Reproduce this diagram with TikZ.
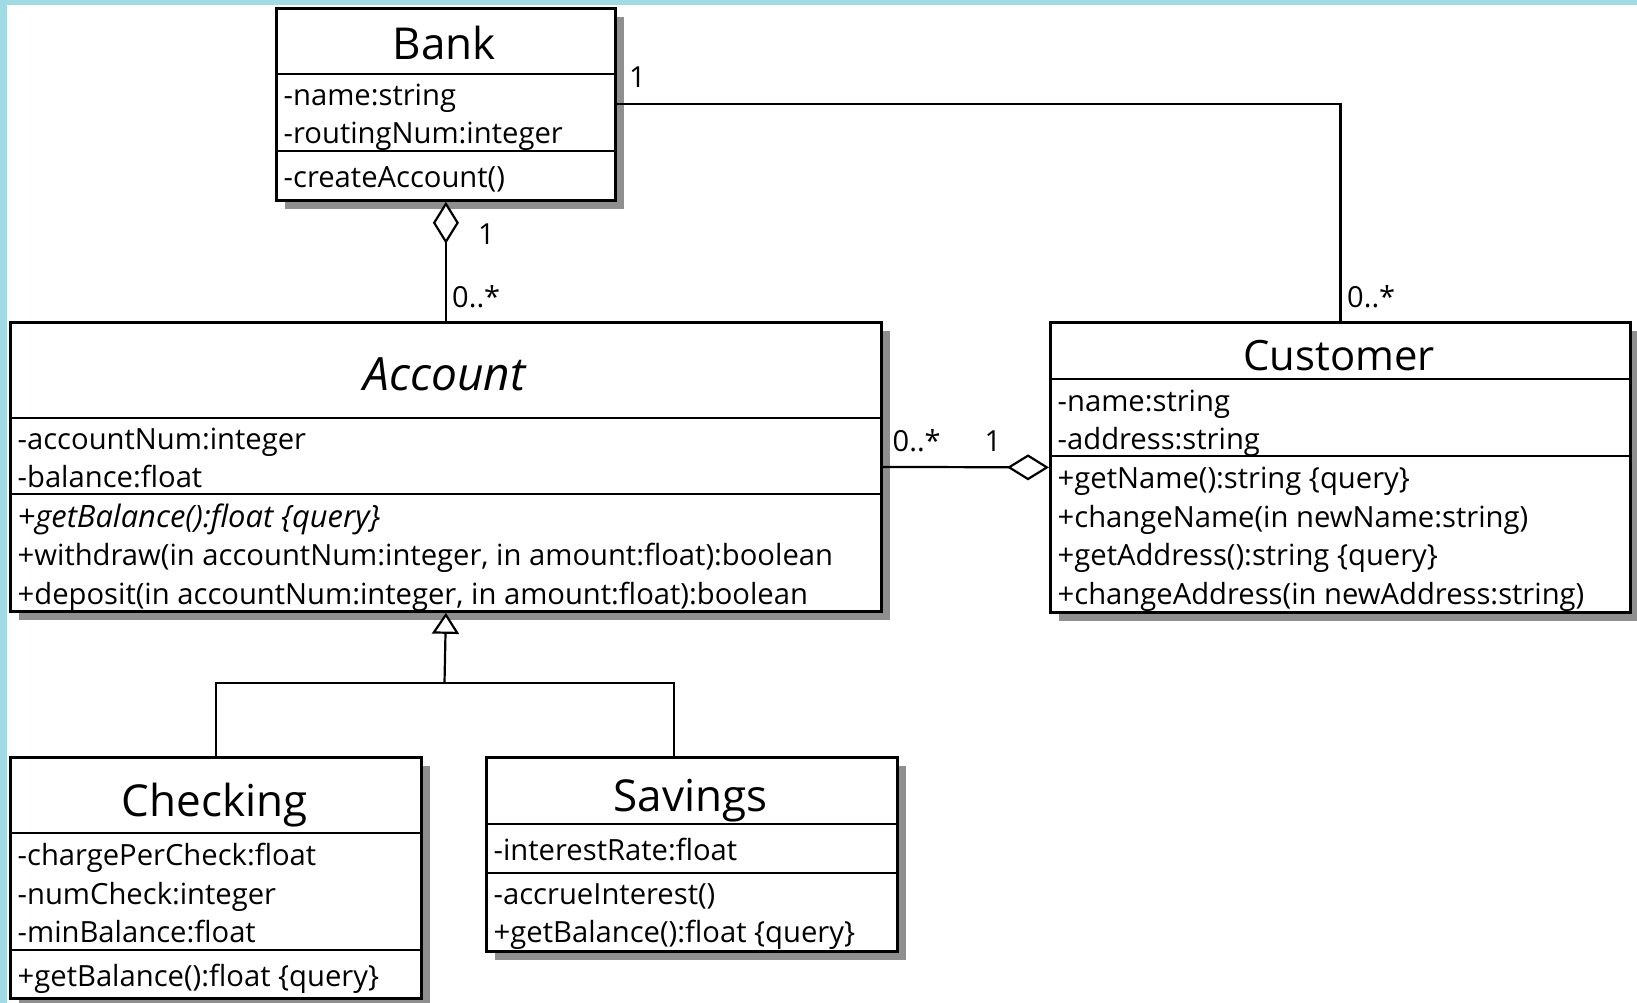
\documentclass[tikz,border=0pt]{standalone}
\usepackage{fontspec}
\setmainfont{Open Sans}
\usetikzlibrary{arrows.meta,shadows}
\definecolor{frameblue}{RGB}{160,219,229}
\definecolor{shadowgray}{RGB}{143,143,143}
\tikzset{
  umlbox/.style={draw=black, line width=2.8pt, fill=white, rectangle, inner sep=0pt,
    anchor=north west,
    drop shadow={shadow xshift=9pt, shadow yshift=-9pt, fill=shadowgray, opacity=1}},
  divider/.style={line width=2.6pt},
  member/.style={inner sep=0pt, anchor=base west, font=\fontsize{29.2}{34}\selectfont},
  classname/.style={inner sep=0pt, anchor=base, font=\fontsize{44}{50}\selectfont},
  mult/.style={inner sep=0pt, anchor=base west, font=\fontsize{29}{34}\selectfont},
  conn/.style={line width=2.2pt},
  aggr/.style={conn, {Diamond[fill=white,length=42pt,width=26pt]}-},
  gen/.style={conn, -{Triangle[fill=white,length=21pt,width=27pt]}},
}
\begin{document}
\begin{tikzpicture}[x=1pt,y=-1pt]
% page frame
\useasboundingbox (0,0) rectangle (1637,1003);
\fill[white] (0,0) rectangle (1637,1003);
\fill[frameblue] (0,0) rectangle (1637,5);
\fill[frameblue] (0,0) rectangle (7,1003);

% ---------------- class boxes ----------------
\node[umlbox, minimum width=339pt, minimum height=192pt] (bank) at (275,7) {};
\node[umlbox, minimum width=871pt, minimum height=289pt] (account) at (9,321) {};
\node[umlbox, minimum width=580pt, minimum height=290pt] (customer) at (1049,321) {};
\node[umlbox, minimum width=411pt, minimum height=241pt] (checking) at (9,756) {};
\node[umlbox, minimum width=411pt, minimum height=194pt] (savings) at (485,756) {};

% compartment separators
\draw[divider] (bank.west |- 0,74) -- (bank.east |- 0,74);
\draw[divider] (bank.west |- 0,151) -- (bank.east |- 0,151);
\draw[divider] (account.west |- 0,418) -- (account.east |- 0,418);
\draw[divider] (account.west |- 0,494) -- (account.east |- 0,494);
\draw[divider] (customer.west |- 0,379) -- (customer.east |- 0,379);
\draw[divider] (customer.west |- 0,456) -- (customer.east |- 0,456);
\draw[divider] (checking.west |- 0,833) -- (checking.east |- 0,833);
\draw[divider] (checking.west |- 0,950) -- (checking.east |- 0,950);
\draw[divider] (savings.west |- 0,824) -- (savings.east |- 0,824);
\draw[divider] (savings.west |- 0,873) -- (savings.east |- 0,873);

% ---------------- Bank ----------------
\node[classname] (bankname) at (444.5,60) {Bank};
\node[member] (bank1) at (283.5,105.5) {-name:string};
\node[member] (bank2) at (283.5,144) {-routingNum:integer};
\node[member] (bank3) at (283.5,187) {-createAccount()};

% ---------------- Account ----------------
\node[classname, font=\fontsize{46}{52}\selectfont\itshape] (accname) at (444.5,390) {Account};
\node[member] (acc1) at (17.5,449) {-accountNum:integer};
\node[member] (acc2) at (17.5,487.5) {-balance:float};
\node[member, font=\fontsize{30.9}{36}\selectfont\itshape] (acc3) at (17.5,527) {+getBalance():float \{query\}};
\node[member] (acc4) at (17.5,565.5) {+withdraw(in accountNum:integer, in amount:float):boolean};
\node[member] (acc5) at (17.5,604) {+deposit(in accountNum:integer, in amount:float):boolean};

% ---------------- Customer ----------------
\node[classname, font=\fontsize{41.8}{48}\selectfont] (custname) at (1339,370) {Customer};
\node[member] (cust1) at (1057.5,411) {-name:string};
\node[member] (cust2) at (1057.5,449.5) {-address:string};
\node[member] (cust3) at (1057.5,488.5) {+getName():string \{query\}};
\node[member] (cust4) at (1057.5,527) {+changeName(in newName:string)};
\node[member] (cust5) at (1057.5,565.5) {+getAddress():string \{query\}};
\node[member] (cust6) at (1057.5,604) {+changeAddress(in newAddress:string)};

% ---------------- Checking ----------------
\node[classname] (chkname) at (214.5,816) {Checking};
\node[member] (chk1) at (17.5,865.5) {-chargePerCheck:float};
\node[member] (chk2) at (17.5,904) {-numCheck:integer};
\node[member] (chk3) at (17.5,942.5) {-minBalance:float};
\node[member] (chk4) at (17.5,986.5) {+getBalance():float \{query\}};

% ---------------- Savings ----------------
\node[classname] (savname) at (690.5,811) {Savings};
\node[member] (sav1) at (493.5,860.5) {-interestRate:float};
\node[member] (sav2) at (493.5,904) {-accrueInterest()};
\node[member] (sav3) at (493.5,942.5) {+getBalance():float \{query\}};

% ---------------- relationships ----------------
% Bank aggregates Accounts
\draw[aggr] (bank.south) -- (account.north);
\node[mult] (m1) at (478,244.5) {1};
\node[mult] (m2) at (452,307) {0..*};

% Bank -- Customer association
\draw[conn] (bank.east) -| (customer.north);
\node[mult] (m3) at (629,87.5) {1};
\node[mult] (m4) at (1347,307) {0..*};

% Customer aggregates Accounts
\draw[aggr] (customer.west) -- (account.east);
\node[mult] (m5) at (892.5,451) {0..*};
\node[mult] (m6) at (984.5,451) {1};

% Checking and Savings specialise Account
\coordinate (bar) at (444.5,683);
\coordinate (savtop) at (674,756);
\draw[gen] (bar) -- (account.south);
\draw[conn] (checking.north) |- (bar) -| (savtop);
\end{tikzpicture}
\end{document}
